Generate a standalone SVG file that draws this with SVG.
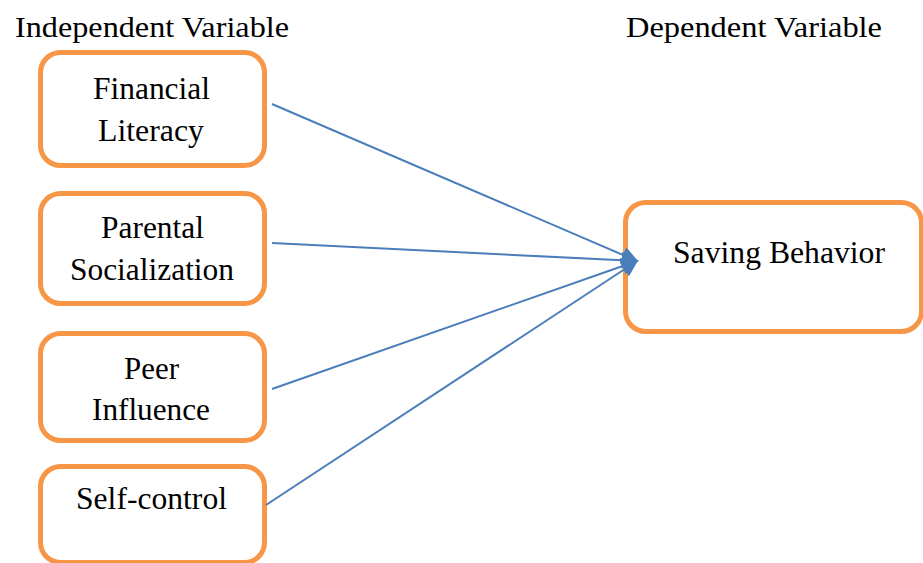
<svg xmlns="http://www.w3.org/2000/svg" width="923" height="563" viewBox="0 0 923 563">
<defs>
<style>
.box{fill:#ffffff;stroke:#F79646;stroke-width:5}
text{font-family:'Liberation Serif','Times New Roman',Times,serif;font-size:31px;fill:#000000}
.hd{font-size:30px}
.c{stroke:#4A7EBB;stroke-width:2;fill:none;marker-end:url(#arr)}
</style>
<marker id="arr" viewBox="0 0 10 10" refX="9" refY="5" markerWidth="8.5" markerHeight="8.5" orient="auto" markerUnits="strokeWidth">
<path d="M0,0 L10,5 L0,10 z" fill="#4A7EBB"/>
</marker>
</defs>
<rect width="923" height="563" fill="#ffffff"/>
<text class="hd" x="15" y="37" textLength="274" lengthAdjust="spacingAndGlyphs">Independent Variable</text>
<text class="hd" x="626" y="37" textLength="256" lengthAdjust="spacingAndGlyphs">Dependent Variable</text>
<g id="financial-literacy">
<rect class="box" x="40.5" y="52.5" width="224" height="113" rx="20"/>
<text x="93" y="99" textLength="117" lengthAdjust="spacingAndGlyphs">Financial</text>
<text x="98" y="141" textLength="106" lengthAdjust="spacingAndGlyphs">Literacy</text>
</g>
<g id="parental-socialization">
<rect class="box" x="40.5" y="193.5" width="224" height="110" rx="20"/>
<text x="101" y="238" textLength="103" lengthAdjust="spacingAndGlyphs">Parental</text>
<text x="70" y="280" textLength="164" lengthAdjust="spacingAndGlyphs">Socialization</text>
</g>
<g id="peer-influence">
<rect class="box" x="40.5" y="333.5" width="224" height="107" rx="20"/>
<text x="124" y="379" textLength="55" lengthAdjust="spacingAndGlyphs">Peer</text>
<text x="92" y="420" textLength="118" lengthAdjust="spacingAndGlyphs">Influence</text>
</g>
<g id="self-control">
<rect class="box" x="40.5" y="466.5" width="224" height="96" rx="20"/>
<text x="76" y="509" textLength="151" lengthAdjust="spacingAndGlyphs">Self-control</text>
</g>
<g id="saving-behavior">
<rect class="box" x="625.5" y="202.5" width="296" height="129" rx="20"/>
<text x="673" y="263" textLength="212" lengthAdjust="spacingAndGlyphs">Saving Behavior</text>
</g>
<g id="connectors">
<line class="c" x1="272" y1="104" x2="637" y2="261"/>
<line class="c" x1="272" y1="243" x2="637" y2="261"/>
<line class="c" x1="272" y1="389" x2="637" y2="261"/>
<line class="c" x1="266" y1="505" x2="637" y2="261"/>
</g>
</svg>
